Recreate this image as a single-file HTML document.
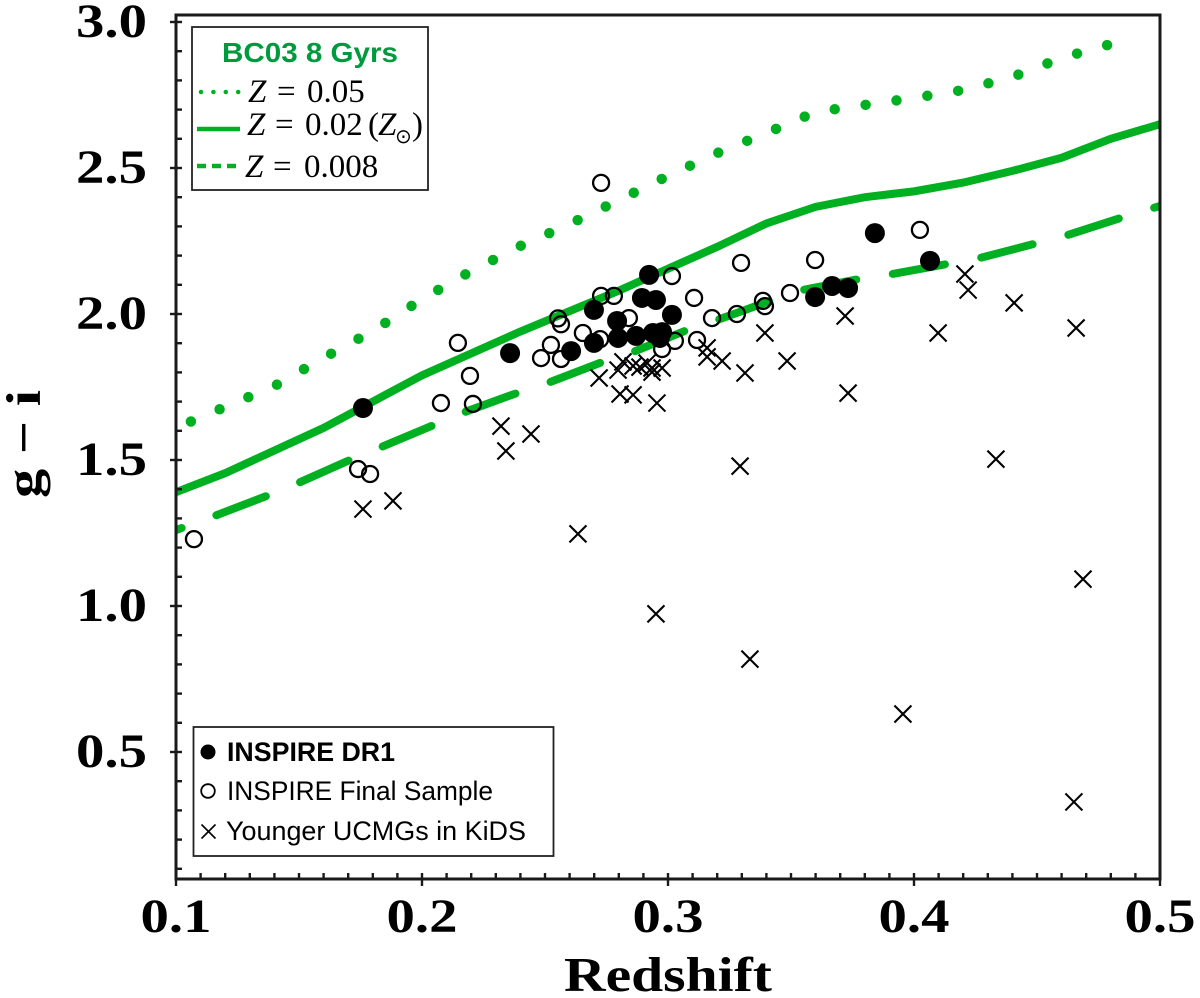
<!DOCTYPE html>
<html lang="en">
<head>
<meta charset="utf-8">
<title>g-i colour versus redshift</title>
<style>
html,body{margin:0;padding:0;background:#fff;}
svg{display:block;}
.tick{font-family:"Liberation Serif",serif;font-weight:bold;font-size:48px;fill:#000;}
.title{font-family:"Liberation Serif",serif;font-weight:bold;font-size:49px;fill:#000;}
.leg{font-family:"Liberation Serif",serif;font-size:33px;fill:#000;}
.sans{font-family:"Liberation Sans",sans-serif;font-size:27px;fill:#000;}
</style>
</head>
<body>
<svg id="chart" xmlns="http://www.w3.org/2000/svg" width="1200" height="998" viewBox="0 0 1200 998">
  <rect x="0" y="0" width="1200" height="998" fill="#fff"/>
  <g id="series"></g>
  <g id="axes"></g>

  <g>
    <rect x="192" y="27" width="236" height="163" fill="#fff" stroke="#222" stroke-width="1.8"/>
    <text x="310" y="62" text-anchor="middle" textLength="176" lengthAdjust="spacingAndGlyphs" style="font-family:'Liberation Sans',sans-serif;font-weight:bold;font-size:28px;fill:#009a3e;">BC03 8 Gyrs</text>
    <line x1="201" y1="92" x2="240" y2="92" stroke="#00b020" stroke-width="4.5" stroke-linecap="round" stroke-dasharray="0 12.4"/>
    <text class="leg" y="102"><tspan font-style="italic" x="248">Z</tspan><tspan x="277">=</tspan><tspan x="307">0.05</tspan></text>
    <line x1="197" y1="129" x2="240" y2="129" stroke="#00b020" stroke-width="4.5"/>
    <text class="leg" y="135"><tspan font-style="italic" x="247">Z</tspan><tspan x="275">=</tspan><tspan x="305">0.02</tspan><tspan x="368">(</tspan><tspan font-style="italic" x="378">Z</tspan><tspan font-size="20" y="143" x="395" font-family="'DejaVu Sans',sans-serif">⊙</tspan><tspan x="412" y="135">)</tspan></text>
    <line x1="197" y1="166" x2="238" y2="166" stroke="#00b020" stroke-width="4.5" stroke-dasharray="9 6"/>
    <text class="leg" y="177"><tspan font-style="italic" x="245">Z</tspan><tspan x="273">=</tspan><tspan x="304">0.008</tspan></text>
  </g>

  <g>
    <rect x="193.5" y="727" width="360" height="129" fill="#fff" stroke="#222" stroke-width="1.8"/>
    <circle cx="208" cy="752" r="7.5" fill="#000"/>
    <text class="sans" font-weight="bold" x="227" y="761" textLength="168" lengthAdjust="spacingAndGlyphs">INSPIRE DR1</text>
    <circle cx="208" cy="791" r="6.8" fill="#fff" stroke="#000" stroke-width="1.8"/>
    <text class="sans" x="227" y="800" textLength="266" lengthAdjust="spacingAndGlyphs">INSPIRE Final Sample</text>
    <path d="M201.5 824.5L215.5 838.5M215.5 824.5L201.5 838.5" stroke="#000" stroke-width="1.6" fill="none"/>
    <text class="sans" x="226" y="840" textLength="300" lengthAdjust="spacingAndGlyphs">Younger UCMGs in KiDS</text>
  </g>

  <text class="title" x="668" y="991" text-anchor="middle" textLength="208" lengthAdjust="spacingAndGlyphs">Redshift</text>
  <text class="title" transform="translate(40,444) rotate(-90)" text-anchor="middle" textLength="108" lengthAdjust="spacingAndGlyphs">g − i</text>
</svg>

<script>
var xTickLabels = ["0.1", "0.2", "0.3", "0.4", "0.5"];
var yTickLabels = ["0.5", "1.0", "1.5", "2.0", "2.5", "3.0"];

var dottedZ = [0.1, 0.12, 0.14, 0.16, 0.18, 0.2, 0.22, 0.24, 0.26, 0.28, 0.3, 0.32, 0.34, 0.36, 0.38, 0.4, 0.42, 0.44, 0.46, 0.479];
var dottedColour = [1.61, 1.682, 1.753, 1.85, 1.942, 2.051, 2.147, 2.233, 2.308, 2.39, 2.473, 2.551, 2.62, 2.692, 2.716, 2.74, 2.767, 2.812, 2.877, 2.922];

var solidZ = [0.1, 0.12, 0.16, 0.2, 0.24, 0.28, 0.32, 0.34, 0.36, 0.38, 0.4, 0.42, 0.44, 0.46, 0.48, 0.5];
var solidColour = [1.39, 1.455, 1.61, 1.79, 1.94, 2.08, 2.23, 2.31, 2.367, 2.40, 2.42, 2.45, 2.49, 2.535, 2.60, 2.65];

var dashedZ = [0.1, 0.1146, 0.1378, 0.1488, 0.1715, 0.1825, 0.2057, 0.2163, 0.2398, 0.2512, 0.2744, 0.2858, 0.3089, 0.3199, 0.3435, 0.3545, 0.3797, 0.3911, 0.4159, 0.4268, 0.452, 0.4626, 0.4866, 0.4972, 0.5];
var dashedColour = [1.26, 1.305, 1.38, 1.418, 1.503, 1.541, 1.623, 1.661, 1.733, 1.764, 1.839, 1.87, 1.949, 1.979, 2.051, 2.082, 2.123, 2.137, 2.175, 2.192, 2.247, 2.271, 2.336, 2.363, 2.37];

var youngerZ = [0.176, 0.1882, 0.2321, 0.2341, 0.2443, 0.2634, 0.2951, 0.3333, 0.3955, 0.465, 0.4687, 0.3293, 0.2955, 0.272, 0.2817, 0.2797, 0.2805, 0.2858, 0.2858, 0.2886, 0.2935, 0.2935, 0.2976, 0.2915, 0.3159, 0.3159, 0.322, 0.4207, 0.422, 0.4407, 0.4659, 0.4098, 0.4333, 0.372, 0.3732, 0.3394, 0.3313, 0.3484];
var youngerColour = [1.332, 1.36, 1.616, 1.531, 1.589, 1.247, 0.973, 0.818, 0.63, 0.329, 1.092, 1.479, 1.695, 1.781, 1.836, 1.808, 1.726, 1.723, 1.822, 1.818, 1.815, 1.801, 1.815, 1.832, 1.884, 1.853, 1.839, 2.137, 2.082, 2.038, 1.952, 1.935, 1.503, 1.993, 1.729, 1.935, 1.798, 1.839];

var finalZ = [0.2553, 0.2565, 0.2728, 0.278, 0.3016, 0.3106, 0.3179, 0.328, 0.3297, 0.2524, 0.2484, 0.2565, 0.2654, 0.2724, 0.2841, 0.3028, 0.3118, 0.2976, 0.2728, 0.3598, 0.4024, 0.3386, 0.3394, 0.3496, 0.2146, 0.2077, 0.2195, 0.2207, 0.174, 0.1789, 0.1073];
var finalColour = [1.985, 1.965, 2.062, 2.062, 2.13, 2.055, 1.986, 2.0, 2.175, 1.894, 1.849, 1.846, 1.935, 1.914, 1.986, 1.908, 1.911, 1.88, 2.449, 2.185, 2.288, 2.045, 2.027, 2.072, 1.901, 1.695, 1.788, 1.692, 1.469, 1.452, 1.229];

var dr1Z = [0.176, 0.2358, 0.2606, 0.2699, 0.2699, 0.2923, 0.2894, 0.2951, 0.3016, 0.2793, 0.2797, 0.287, 0.2939, 0.2976, 0.2967, 0.3841, 0.4065, 0.3598, 0.3667, 0.3732];
var dr1Colour = [1.678, 1.866, 1.873, 1.901, 2.014, 2.134, 2.055, 2.048, 1.997, 1.976, 1.918, 1.925, 1.935, 1.938, 1.918, 2.277, 2.182, 2.058, 2.096, 2.089];

var NS = 'http://www.w3.org/2000/svg';
var GREEN = '#00b020';
var PLOT_LEFT = 176, PLOT_RIGHT = 1160, PLOT_TOP = 15, PLOT_BOTTOM = 879;

function xScale(v) { return PLOT_LEFT + (v - 0.1) / 0.4 * (PLOT_RIGHT - PLOT_LEFT); }
function yScale(v) { return 22 + (3.0 - v) / 0.5 * 146; }

function make(parent, tag, attrs) {
  var el = document.createElementNS(NS, tag);
  for (var k in attrs) { el.setAttribute(k, attrs[k]); }
  parent.appendChild(el);
  return el;
}

function pathFrom(zs, cs) {
  var d = '';
  for (var i = 0; i < zs.length; i++) {
    d += (i ? 'L' : 'M') + xScale(zs[i]).toFixed(2) + ' ' + yScale(cs[i]).toFixed(2);
  }
  return d;
}

var series = document.getElementById('series');
var axes = document.getElementById('axes');

var clip = make(document.getElementById('chart'), 'clipPath', { id: 'plot-clip' });


make(clip, 'rect', { x: PLOT_LEFT, y: PLOT_TOP, width: PLOT_RIGHT - PLOT_LEFT, height: PLOT_BOTTOM - PLOT_TOP });

var gLines = make(series, 'g', { 'clip-path': 'url(#plot-clip)' });



var lineDotted = make(gLines, 'path', { d: pathFrom(dottedZ, dottedColour), fill: 'none', stroke: GREEN, 'stroke-width': 10.5, 'stroke-linecap': 'round', 'stroke-dasharray': '0 31.2', 'stroke-dashoffset': '15' });



var lineSolid = make(gLines, 'path', { d: pathFrom(solidZ, solidColour), fill: 'none', stroke: GREEN, 'stroke-width': 8 });



var lineDashed = make(gLines, 'path', { d: pathFrom(dashedZ, dashedColour), fill: 'none', stroke: GREEN, 'stroke-width': 8, 'stroke-linecap': 'round', 'stroke-dasharray': '53 37', 'stroke-dashoffset': '47' });



for (var i = 0; i < youngerZ.length; i++) {
  var cx = xScale(youngerZ[i]), cy = yScale(youngerColour[i]);
  var cross = make(series, 'path', { d: 'M' + (cx - 8.5) + ' ' + (cy - 8.5) + 'L' + (cx + 8.5) + ' ' + (cy + 8.5) + 'M' + (cx + 8.5) + ' ' + (cy - 8.5) + 'L' + (cx - 8.5) + ' ' + (cy + 8.5), stroke: '#000', 'stroke-width': 2.1, fill: 'none' });
  
  
}

for (var j = 0; j < finalZ.length; j++) {
  var ring = make(series, 'circle', { cx: xScale(finalZ[j]), cy: yScale(finalColour[j]), r: 8, fill: 'none', stroke: '#000', 'stroke-width': 2.3 });
  
  
}

for (var m = 0; m < dr1Z.length; m++) {
  var dot = make(series, 'circle', { cx: xScale(dr1Z[m]), cy: yScale(dr1Colour[m]), r: 10, fill: '#000' });
  
  
}

var frame = make(axes, 'path', { d: 'M' + PLOT_LEFT + ' ' + PLOT_BOTTOM + 'V' + PLOT_TOP + 'H' + PLOT_RIGHT + 'V' + PLOT_BOTTOM + 'Z', fill: 'none', stroke: '#1a1a1a', 'stroke-width': 3 });



for (var xm = 0; xm <= 40; xm++) {
  var xv = 0.1 + xm * 0.01;
  var px = xScale(xv);
  var isMajorX = xm % 10 === 0;
  var xt = make(axes, 'line', { x1: px, x2: px, y1: isMajorX ? PLOT_BOTTOM + 7 : PLOT_BOTTOM, y2: PLOT_BOTTOM - 6, stroke: '#1a1a1a', 'stroke-width': 2.4 });
  
  
}

for (var ym = 1; ym <= 30; ym++) {
  var yv = ym * 0.1;
  var py = yScale(yv);
  var isMajorY = ym % 5 === 0;
  var yt = make(axes, 'line', { x1: isMajorY ? PLOT_LEFT - 6 : PLOT_LEFT, x2: PLOT_LEFT + 6, y1: py, y2: py, stroke: '#1a1a1a', 'stroke-width': 2.4 });
  
  
}

for (var a = 0; a < xTickLabels.length; a++) {
  var lx = make(axes, 'text', { x: xScale(parseFloat(xTickLabels[a])), y: 932, 'text-anchor': 'middle', 'class': 'tick', textLength: 71, lengthAdjust: 'spacingAndGlyphs' });
  lx.textContent = xTickLabels[a];
  
  
}

for (var b = 0; b < yTickLabels.length; b++) {
  var ly = make(axes, 'text', { x: 147, y: yScale(parseFloat(yTickLabels[b])) + 15, 'text-anchor': 'end', 'class': 'tick', textLength: 71, lengthAdjust: 'spacingAndGlyphs' });
  ly.textContent = yTickLabels[b];
  
  
}
</script>
</body>
</html>
